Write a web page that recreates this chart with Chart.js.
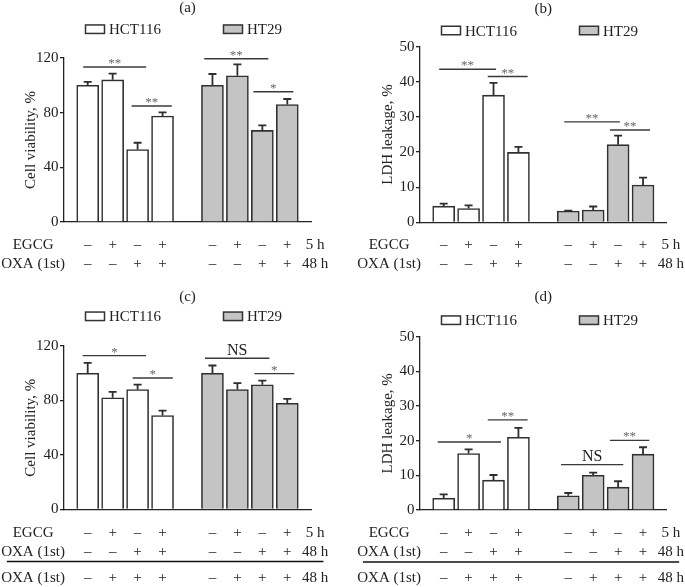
<!DOCTYPE html>
<html><head><meta charset="utf-8">
<script src="https://cdn.jsdelivr.net/npm/chart.js@4.4.1/dist/chart.umd.min.js"></script>
<style>
html,body{margin:0;padding:0;background:#fff;overflow:hidden;width:685px;height:587px;position:relative;}
canvas{position:absolute;}
</style></head><body>
<canvas id="ca" width="340" height="290" style="left:0;top:0"></canvas>
<canvas id="cb" width="340" height="290" style="left:345px;top:0"></canvas>
<canvas id="cc" width="340" height="297" style="left:0;top:290px"></canvas>
<canvas id="cd" width="340" height="297" style="left:345px;top:290px"></canvas>
<script>
const FONT = "'Liberation Serif', 'Times New Roman', Times, serif";
const INK = '#222';
Chart.defaults.font.family = FONT;
Chart.defaults.font.size = 15;
Chart.defaults.color = INK;

// ---------- data ----------
const cellLines = ['HCT116', 'HT29'];
const rowLabels = ['EGCG', 'OXA (1st)'];
const rowTimes = ['5 h', '48 h'];
const egcgRow = ['–', '+', '–', '+'];
const oxaRow = ['–', '–', '+', '+'];
const oxaPreRow = ['–', '+', '+', '+'];
const viabilityTicks = [0, 40, 80, 120];
const ldhTicks = [0, 10, 20, 30, 40, 50];

const viabilityA_HCT116 = [100, 104, 53, 77.5];
const viabilityA_HCT116_err = [2.5, 4.5, 5, 2.7];
const viabilityA_HT29 = [100, 107, 67, 86];
const viabilityA_HT29_err = [8.3, 8.3, 3.7, 4];

const ldhB_HCT116 = [4.6, 3.9, 36.2, 19.9];
const ldhB_HCT116_err = [0.7, 0.9, 3.5, 1.6];
const ldhB_HT29 = [3.2, 3.5, 22.1, 10.6];
const ldhB_HT29_err = [0.15, 1.0, 2.6, 2.1];

const viabilityC_HCT116 = [100, 82, 88, 69];
const viabilityC_HCT116_err = [7.6, 4.4, 3.7, 3.6];
const viabilityC_HT29 = [100, 88, 91.5, 78];
const viabilityC_HT29_err = [5.7, 4.7, 3.1, 3.2];

const ldhD_HCT116 = [3.4, 16.3, 8.6, 21.0];
const ldhD_HCT116_err = [1.1, 1.2, 1.5, 2.7];
const ldhD_HT29 = [4.1, 10.0, 6.6, 16.1];
const ldhD_HT29_err = [0.8, 0.8, 1.7, 2.0];

// significance brackets: [from bar, to bar (bar-index units), level (axis units), label]
const sigA = [[-0.18, 2.34, 113.4, '**'], [1.76, 3.37, 84.9, '**'], [4.67, 7.24, 119.5, '**'], [6.64, 8.24, 95.3, '*']];
const sigB = [[-0.18, 2.10, 43.6, '**'], [1.77, 3.37, 41.5, '**'], [4.84, 7.07, 28.6, '**'], [6.67, 8.28, 26.3, '**']];
const sigC = [[-0.20, 2.34, 112.9, '*'], [1.80, 3.41, 96.5, '*'], [4.70, 7.28, 111.0, 'NS'], [6.68, 8.28, 99.7, '*']];
const sigD = [[-0.24, 2.30, 19.6, '*'], [1.77, 3.37, 26.0, '**'], [4.71, 7.21, 13.1, 'NS'], [6.67, 8.25, 20.1, '**']];

// ---------- panels ----------
const panels = [
  {canvas: 'ca', title: '(a)', yTitle: 'Cell viability, %', ticks: viabilityTicks,
   series: [[viabilityA_HCT116, viabilityA_HCT116_err], [viabilityA_HT29, viabilityA_HT29_err]], sig: sigA, pre: false,
   g: {yW: 64, padR: 29, xH: 68, tTop: -1, tBottom: 41, yTitlePad: 22.5, legendY: 29.2}},
  {canvas: 'cb', title: '(b)', yTitle: 'LDH leakage, %', ticks: ldhTicks,
   series: [[ldhB_HCT116, ldhB_HCT116_err], [ldhB_HT29, ldhB_HT29_err]], sig: sigB, pre: false,
   g: {yW: 75, padR: 18.3, xH: 67.7, tTop: 0, tBottom: 28.7, yTitlePad: 34, legendY: 30.5}},
  {canvas: 'cc', title: '(c)', yTitle: 'Cell viability, %', ticks: viabilityTicks,
   series: [[viabilityC_HCT116, viabilityC_HCT116_err], [viabilityC_HT29, viabilityC_HT29_err]], sig: sigC, pre: true,
   g: {yW: 64, padR: 29, xH: 77.5, tTop: -2, tBottom: 40, yTitlePad: 22.5, legendY: 26.3}},
  {canvas: 'cd', title: '(d)', yTitle: 'LDH leakage, %', ticks: ldhTicks,
   series: [[ldhD_HCT116, ldhD_HCT116_err], [ldhD_HT29, ldhD_HT29_err]], sig: sigD, pre: true,
   g: {yW: 75, padR: 18.3, xH: 77, tTop: -1.5, tBottom: 30.2, yTitlePad: 34, legendY: 30.2}}
];

const fills = ['#ffffff', '#c4c4c4'];

function makeAnnotate(p) {
  return {
    id: 'annotate',
    afterDatasetsDraw(chart) {
      const ctx = chart.ctx, xs = chart.scales.x, ys = chart.scales.y, area = chart.chartArea;
      ctx.save();
      // error bars
      chart.data.datasets.forEach((ds, di) => {
        const meta = chart.getDatasetMeta(di);
        meta.data.forEach((el, i) => {
          const yTop = ys.getPixelForValue(ds.data[i].y + ds.errors[i]);
          ctx.strokeStyle = '#2e2e2e'; ctx.lineWidth = 1.8;
          ctx.beginPath();
          ctx.moveTo(el.x, el.y); ctx.lineTo(el.x, yTop);
          ctx.moveTo(el.x - 4, yTop); ctx.lineTo(el.x + 4, yTop);
          ctx.stroke();
        });
      });
      // significance brackets
      p.sig.forEach(([a, b, lvl, label]) => {
        const x1 = xs.getPixelForValue(a), x2 = xs.getPixelForValue(b), y = ys.getPixelForValue(lvl);
        ctx.strokeStyle = '#3a3a3a'; ctx.lineWidth = 1.4;
        ctx.beginPath(); ctx.moveTo(x1, y); ctx.lineTo(x2, y); ctx.stroke();
        ctx.textAlign = 'center'; ctx.textBaseline = 'alphabetic';
        const cx = (x1 + x2) / 2;
        if (label === 'NS') {
          ctx.font = `16px ${FONT}`; ctx.fillStyle = INK;
          ctx.fillText(label, cx, y - 3.5);
        } else {
          ctx.font = `13px ${FONT}`; ctx.fillStyle = '#666';
          ctx.fillText(label, cx, y);
        }
      });
      // legend
      chart.data.datasets.forEach((ds, i) => {
        const bx = area.left + [21.5, 159.5][i], by = p.g.legendY;
        ctx.fillStyle = ds.backgroundColor; ctx.fillRect(bx, by - 4.25, 19, 8.5);
        ctx.strokeStyle = '#333'; ctx.lineWidth = 1.5; ctx.strokeRect(bx, by - 4.25, 19, 8.5);
        ctx.fillStyle = INK; ctx.font = `15px ${FONT}`; ctx.textAlign = 'left'; ctx.textBaseline = 'alphabetic';
        ctx.fillText(ds.label, bx + 23.5, by + 5);
      });
      // treatment table
      const rows = [
        {label: rowLabels[0], signs: egcgRow, time: rowTimes[0], dy: 22},
        {label: rowLabels[1], signs: oxaRow, time: rowTimes[1], dy: 41}
      ];
      if (p.pre) rows.push({label: rowLabels[1], signs: oxaPreRow, time: rowTimes[1], dy: 67});
      ctx.font = `15px ${FONT}`; ctx.textAlign = 'center'; ctx.textBaseline = 'alphabetic'; ctx.fillStyle = INK;
      rows.forEach(r => {
        const y = area.bottom + r.dy + 5;
        ctx.fillText(r.label, xs.getPixelForValue(-2.19), y);
        cellLines.forEach((_, gi) => r.signs.forEach((s, i) => ctx.fillText(s, xs.getPixelForValue(i + gi * 5), y)));
        ctx.fillText(r.time, xs.getPixelForValue(9.12), y);
      });
      if (p.pre) {
        const y = area.bottom + 52;
        ctx.strokeStyle = '#111'; ctx.lineWidth = 1.5;
        ctx.beginPath(); ctx.moveTo(xs.getPixelForValue(-3.24), y); ctx.lineTo(xs.getPixelForValue(9.45), y); ctx.stroke();
      }
      ctx.restore();
    }
  };
}

panels.forEach(p => {
  const datasets = cellLines.map((name, gi) => ({
    label: name,
    data: p.series[gi][0].map((v, i) => ({x: i + gi * 5, y: v})),
    errors: p.series[gi][1],
    backgroundColor: fills[gi],
    borderColor: '#303030',
    borderWidth: 1.6,
    barThickness: 22,
    grouped: false
  }));
  const t = p.ticks;
  new Chart(document.getElementById(p.canvas), {
    type: 'bar',
    data: {datasets},
    options: {
      responsive: false, animation: false, events: [],
      layout: {padding: {left: 0, right: p.g.padR, top: 0, bottom: 0}},
      plugins: {
        legend: {display: false},
        tooltip: {enabled: false},
        title: {display: true, text: p.title, fullSize: false, color: INK,
                padding: {top: p.g.tTop, bottom: p.g.tBottom}, font: {size: 15, weight: 'normal'}}
      },
      scales: {
        x: {type: 'linear', min: -0.95, max: 8.95, offset: false,
            ticks: {display: false}, grid: {display: false, offset: false},
            border: {display: true, color: '#222', width: 1.3},
            afterFit: s => { s.height = p.g.xH; }},
        y: {min: t[0], max: t[t.length - 1],
            ticks: {stepSize: t[1] - t[0], padding: 1.5, color: INK, font: {size: 15}},
            grid: {display: true, drawOnChartArea: false, drawTicks: true, tickLength: 4, color: '#222', lineWidth: 1.3},
            border: {display: true, color: '#222', width: 1.3},
            title: {display: true, text: p.yTitle, color: INK, font: {size: 15}, padding: {top: p.g.yTitlePad, bottom: 0}},
            afterFit: s => { s.width = p.g.yW; }}
      }
    },
    plugins: [makeAnnotate(p)]
  });
});
</script>
</body></html>
